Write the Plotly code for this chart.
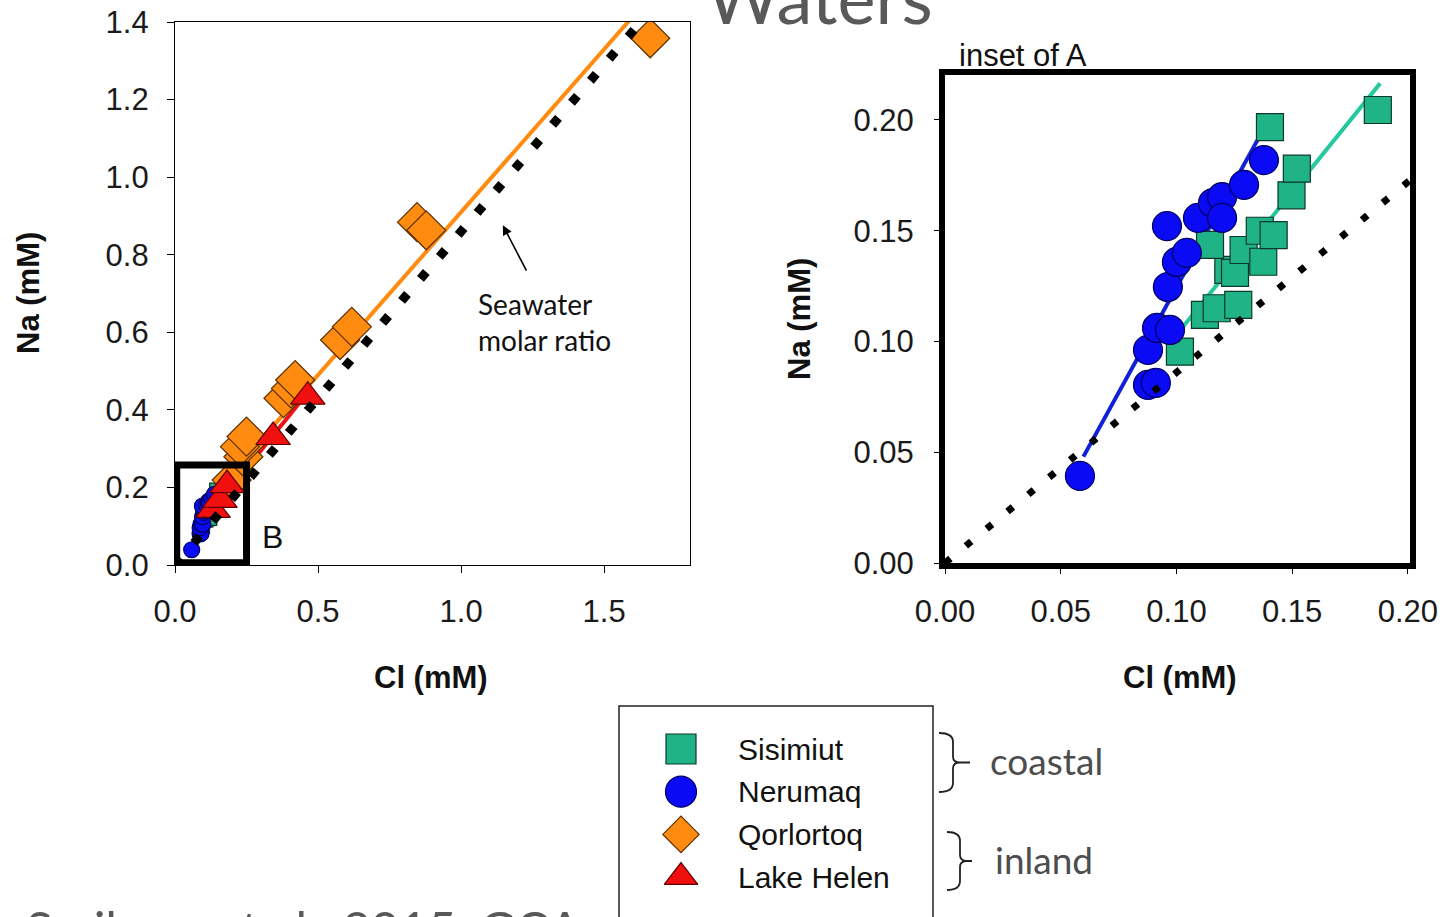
import plotly.graph_objects as go

W, H = 1447, 917

# ---------------- data ----------------
sisimiut_cl = [0.1015, 0.1123, 0.1174, 0.1267, 0.1224, 0.1253, 0.1145, 0.1290,
               0.1375, 0.1360, 0.1420, 0.1497, 0.1520, 0.1404, 0.1870]
sisimiut_na = [0.0954, 0.1120, 0.1150, 0.1165, 0.1323, 0.1310, 0.1436, 0.1413,
               0.1360, 0.1500, 0.1480, 0.1660, 0.1780, 0.1968, 0.2045]

nerumaq_cl = [0.0583, 0.0877, 0.0911, 0.0877, 0.0916, 0.0972, 0.0963, 0.1002,
              0.1045, 0.0959, 0.1093, 0.1158, 0.1197, 0.1197, 0.1292, 0.1378]
nerumaq_na = [0.0393, 0.0804, 0.0813, 0.0962, 0.1061, 0.1052, 0.1246, 0.1359,
              0.1400, 0.1521, 0.1558, 0.1625, 0.1652, 0.1558, 0.1707, 0.1819]

qorlortoq_cl = [0.198, 0.239, 0.250, 0.227, 0.250, 0.379, 0.405, 0.420,
                0.577, 0.618, 0.846, 0.878, 1.661]
qorlortoq_na = [0.219, 0.279, 0.314, 0.305, 0.331, 0.430, 0.455, 0.477,
                0.580, 0.614, 0.884, 0.863, 1.358]

lake_helen_cl = [0.133, 0.157, 0.182, 0.343, 0.464]
lake_helen_na = [0.142, 0.168, 0.206, 0.330, 0.434]

seawater_ratio = 0.86          # Na/Cl molar ratio of seawater
seawater_cl_span = [0.0, 1.8]

# linear fits: [slope, intercept], Cl span
sisimiut_fit = [1.29, -0.026]
sisimiut_fit_span = [0.1015, 0.188]
nerumaq_fit = [1.90, -0.0656]
nerumaq_fit_span = [0.0598, 0.1382]
qorlortoq_fit = [0.84, 0.07]
qorlortoq_fit_span = [0.20, 1.70]
lake_helen_fit = [0.91, 0.022]
lake_helen_fit_span = [0.10, 0.47]

series_names = ["Sisimiut", "Nerumaq", "Qorlortoq", "Lake Helen"]

left_x_ticks = [0.0, 0.5, 1.0, 1.5]
left_y_ticks = [0.0, 0.2, 0.4, 0.6, 0.8, 1.0, 1.2, 1.4]
inset_x_ticks = [0.00, 0.05, 0.10, 0.15, 0.20]
inset_y_ticks = [0.00, 0.05, 0.10, 0.15, 0.20]

# ---------------- styles ----------------
GREEN = "#1FB386"
GREEN_LINE = "#25C9A0"
BLUE = "#0A0AF5"
BLUE_LINE = "#1020D8"
ORANGE = "#FF8C10"
RED = "#F01010"
ARIAL = "Liberation Sans, Arial, sans-serif"
CALIBRI = "Lato, Carlito, Calibri, sans-serif"
GRAY_TXT = "#4D4D4D"


def px(x):
    return x / W


def py(y):
    return 1 - y / H


def fit_line(params, span):
    return span, [params[0] * c + params[1] for c in span]


fig = go.Figure()


def add_panel(xr, yr, square_size, circle_size, show_inland, sw_width, sw_dash, fit_w):
    fits = [(sisimiut_fit, sisimiut_fit_span, GREEN_LINE),
            (nerumaq_fit, nerumaq_fit_span, BLUE_LINE)]
    if show_inland:
        fits += [(qorlortoq_fit, qorlortoq_fit_span, ORANGE),
                 (lake_helen_fit, lake_helen_fit_span, RED)]
    for p, sp, col in fits:
        lx, ly = fit_line(p, sp)
        fig.add_trace(go.Scatter(x=lx, y=ly, mode="lines", xaxis=xr, yaxis=yr,
                                 line=dict(color=col, width=fit_w),
                                 showlegend=False, hoverinfo="skip"))
    fig.add_trace(go.Scatter(x=sisimiut_cl, y=sisimiut_na, mode="markers", xaxis=xr, yaxis=yr,
                             marker=dict(symbol="square", size=square_size, color=GREEN,
                                         line=dict(color="#0B3A2A", width=1.2)),
                             name=series_names[0], showlegend=False))
    fig.add_trace(go.Scatter(x=nerumaq_cl, y=nerumaq_na, mode="markers", xaxis=xr, yaxis=yr,
                             marker=dict(symbol="circle", size=circle_size, color=BLUE,
                                         line=dict(color="#000060", width=1.2)),
                             name=series_names[1], showlegend=False))
    if show_inland:
        fig.add_trace(go.Scatter(x=qorlortoq_cl, y=qorlortoq_na, mode="markers", xaxis=xr, yaxis=yr,
                                 marker=dict(symbol="diamond", size=30, color=ORANGE,
                                             line=dict(color="#5A3000", width=1.2)),
                                 name=series_names[2], showlegend=False))
        fig.add_trace(go.Scatter(x=lake_helen_cl, y=lake_helen_na, mode="markers", xaxis=xr, yaxis=yr,
                                 marker=dict(symbol="triangle-up", size=30, color=RED,
                                             line=dict(color="#600000", width=1.2)),
                                 name=series_names[3], showlegend=False))
    fig.add_trace(go.Scatter(x=seawater_cl_span,
                             y=[seawater_ratio * c for c in seawater_cl_span],
                             mode="lines", xaxis=xr, yaxis=yr,
                             line=dict(color="black", width=sw_width, dash=sw_dash),
                             showlegend=False, hoverinfo="skip"))


add_panel("x", "y", 11, 16, True, 9, "9px,20px", 4)
add_panel("x2", "y2", 27, 29, False, 7, "7px,20px", 4)

# ---------------- legend (markers on a pixel overlay axis) ----------------
legend_symbols = ["square", "circle", "diamond", "triangle-up"]
legend_colors = [GREEN, BLUE, ORANGE, RED]
legend_edges = ["#0B3A2A", "#000060", "#5A3000", "#600000"]
legend_sizes = [30, 31, 28, 29]
row0, row_step = 749, 42.7
for i, name in enumerate(series_names):
    yy = row0 + i * row_step
    fig.add_trace(go.Scatter(x=[681], y=[yy], mode="markers", xaxis="x3", yaxis="y3",
                             marker=dict(symbol=legend_symbols[i], size=legend_sizes[i],
                                         color=legend_colors[i],
                                         line=dict(color=legend_edges[i], width=1.2)),
                             showlegend=False, hoverinfo="skip", cliponaxis=False))
    fig.add_annotation(x=px(736), y=py(yy), xref="paper", yref="paper", text=name,
                       showarrow=False, xanchor="left", yanchor="middle",
                       font=dict(family=ARIAL, size=30, color="#111"))

axis_common = dict(showgrid=False, zeroline=False, showline=True, mirror=True,
                   linecolor="black", ticks="outside", tickcolor="black", automargin=False,
                   tickfont=dict(family=ARIAL, size=31, color="#1a1a1a"))

fig.update_layout(
    width=W, height=H,
    margin=dict(l=0, r=0, t=0, b=0, pad=0, autoexpand=False),
    paper_bgcolor="white", plot_bgcolor="rgba(0,0,0,0)",
    showlegend=False,
    xaxis=dict(domain=[px(175), px(690)], range=[0, 1.8], tickvals=left_x_ticks,
               tickformat=".1f", linewidth=1.3, ticklen=7, ticklabelstandoff=12, anchor="y",
               **axis_common),
    yaxis=dict(domain=[py(565), py(22)], range=[0, 1.4], tickvals=left_y_ticks,
               tickformat=".1f", linewidth=1.3, ticklen=7, ticklabelstandoff=12, anchor="x",
               **axis_common),
    xaxis2=dict(domain=[px(945), px(1410)], range=[0, 0.2009], tickvals=inset_x_ticks,
                tickformat=".2f", linewidth=6, ticklen=5, ticklabelstandoff=11, anchor="y2",
                **axis_common),
    yaxis2=dict(domain=[py(563), py(75)], range=[0, 0.2203], tickvals=inset_y_ticks,
                tickformat=".2f", linewidth=6, ticklen=5, ticklabelstandoff=14, anchor="x2",
                **axis_common),
    xaxis3=dict(domain=[0, 1], range=[0, W], visible=False, fixedrange=True, anchor="y3",
                automargin=False),
    yaxis3=dict(domain=[0, 1], range=[H, 0], visible=False, fixedrange=True, anchor="x3",
                automargin=False),
)

# B box in panel A
fig.add_shape(type="rect", xref="x", yref="y", x0=0.006, x1=0.25, y0=0.006, y1=0.258,
              line=dict(color="black", width=7), fillcolor="rgba(0,0,0,0)", layer="above")


def pix_text(x, y, text, size, family, color="#111", xanchor="center", angle=0, bold=False):
    fig.add_annotation(x=px(x), y=py(y), xref="paper", yref="paper",
                       text=f"<b>{text}</b>" if bold else text, showarrow=False,
                       xanchor=xanchor, yanchor="middle", textangle=angle,
                       font=dict(family=family, size=size, color=color))


# axis titles
pix_text(28, 293, "Na (mM)", 31, ARIAL, angle=-90, bold=True)
pix_text(431, 677, "Cl (mM)", 31, ARIAL, bold=True)
pix_text(800, 319, "Na (mM)", 31, ARIAL, angle=-90, bold=True)
pix_text(1180, 677, "Cl (mM)", 31, ARIAL, bold=True)

pix_text(272, 537, "B", 32, ARIAL)
pix_text(957, 55, "inset of A", 31, ARIAL, xanchor="left")

# seawater annotation
fig.add_annotation(x=1.146, y=0.876, xref="x", yref="y", ax=1.231, ay=0.755,
                   axref="x", ayref="y", text="", showarrow=True, arrowhead=2,
                   arrowsize=1.2, arrowwidth=1.6, arrowcolor="black")
fig.add_annotation(x=px(476), y=py(322), xref="paper", yref="paper",
                   text="Seawater<br>molar ratio",
                   showarrow=False, xanchor="left", yanchor="middle", align="left",
                   font=dict(family=CALIBRI, size=28, color="#111"))

# legend frame
fig.add_shape(type="rect", xref="paper", yref="paper", x0=px(619), x1=px(933),
              y0=py(706), y1=py(935), line=dict(color="#222", width=1.5),
              fillcolor="rgba(0,0,0,0)")


# braces
def brace(x0, y0, y1, xm, xt):
    ym = (y0 + y1) / 2
    pts = [("M", [(x0, y0)]), ("Q", [(xm, y0), (xm, y0 + 9)]), ("L", [(xm, ym - 6)]),
           ("Q", [(xm, ym), (xm + 7, ym)]), ("L", [(xt, ym)]), ("M", [(xm + 7, ym)]),
           ("Q", [(xm, ym), (xm, ym + 6)]), ("L", [(xm, y1 - 9)]),
           ("Q", [(xm, y1), (x0, y1)])]
    path = " ".join(cmd + " " + " ".join(f"{px(a):.5f},{py(b):.5f}" for a, b in p)
                    for cmd, p in pts)
    fig.add_shape(type="path", xref="paper", yref="paper", path=path,
                  line=dict(color="#222", width=1.8))


brace(939, 733, 792, 953, 970)
brace(947, 832, 890, 960, 972)
pix_text(988, 760, "coastal", 37, CALIBRI, color=GRAY_TXT, xanchor="left")
pix_text(993, 859, "inland", 37, CALIBRI, color=GRAY_TXT, xanchor="left")

# slide title fragment and citation (cut by the frame, as in the source slide)
pix_text(819, -4, "Waters", 72, CALIBRI, color="#595959")
pix_text(24, 928, "Scribner et al., 2015, GCA", 49, CALIBRI, color="#595959", xanchor="left")

fig.write_html("out.html")
